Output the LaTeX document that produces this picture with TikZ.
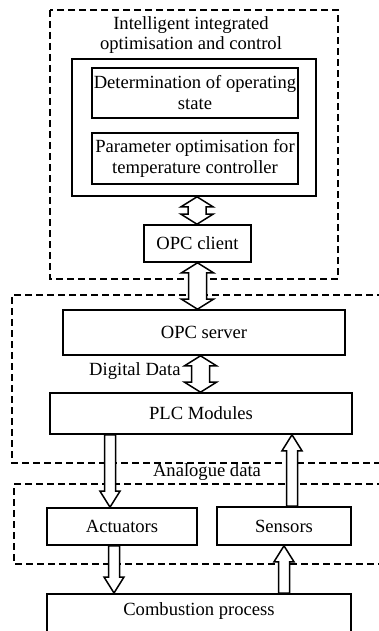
\documentclass[tikz,border=0pt]{standalone}
\usepackage{fontspec}
\setmainfont{Liberation Serif}
\usepackage{tikz}
\usetikzlibrary{positioning,calc}

\tikzset{
  box/.style={draw, rectangle, line width=0.8pt, align=center, inner sep=1pt, font=\fontsize{9.3}{10.5}\selectfont},
  label/.style={align=center, inner sep=0pt, font=\fontsize{9.3}{10}\selectfont},
  region/.style={dash pattern=on 3.5pt off 2pt, line width=0.7pt},
  arrowbody/.style={draw, fill=white, line width=0.75pt},
}

% hollow block arrow, head at the second point
\newcommand{\fatarrow}[2]{%
  \draw[arrowbody] let \p1=(#1), \p2=(#2), \n1={ifthenelse(\y2>\y1,1,-1)} in
    ({\x1-2.75pt},\y1) -- ({\x1-2.75pt},{\y2-(\n1)*8pt}) -- ({\x1-5pt},{\y2-(\n1)*8pt}) -- (\x1,\y2)
    -- ({\x1+5pt},{\y2-(\n1)*8pt}) -- ({\x1+2.75pt},{\y2-(\n1)*8pt}) -- ({\x1+2.75pt},\y1) -- cycle;}
% hollow block arrow, heads at both points
\newcommand{\fatdarrow}[2]{%
  \draw[arrowbody] let \p1=(#1), \p2=(#2), \n1={ifthenelse(\y2>\y1,1,-1)} in
    (\x1,\y1) -- ({\x1+8pt},{\y1+(\n1)*5pt}) -- ({\x1+4.5pt},{\y1+(\n1)*5pt}) -- ({\x1+4.5pt},{\y2-(\n1)*5pt})
    -- ({\x1+8pt},{\y2-(\n1)*5pt}) -- (\x1,\y2) -- ({\x1-8pt},{\y2-(\n1)*5pt}) -- ({\x1-4.5pt},{\y2-(\n1)*5pt})
    -- ({\x1-4.5pt},{\y1+(\n1)*5pt}) -- ({\x1-8pt},{\y1+(\n1)*5pt}) -- cycle;}

\begin{document}
\begin{tikzpicture}[x=0.5pt, y=-0.5pt]
    \useasboundingbox (0,0) rectangle (379,631);
    % Regions
    \draw [region] (50,10) rectangle (338,279);
    \draw [region] (395,295) -| (12,463) -- (395,463);
    \draw [region] (395,484) -| (14,564) -- (395,564);

    % Nodes
    \node [label] (title) at (191,35) {Intelligent integrated\\optimisation and control};
    \node [box, minimum width=122pt, minimum height=68.5pt] (core) at (194,127.5) {};
    \node [box, minimum width=103pt, minimum height=25pt] (state) at (195,93) {Determination of operating\\state};
    \node [box, minimum width=103pt, minimum height=25.5pt] (param) at (195,158.5) {Parameter optimisation for\\temperature controller};
    \node [box, minimum width=53.5pt, minimum height=18.5pt] (client) at (197.5,243.5) {OPC client};

    \node [box, minimum width=141pt, minimum height=22.5pt] (server) at (204,332.5) {OPC server};
    \node [label, anchor=east] (digital) at (181,371) {Digital Data};
    \node [box, minimum width=151pt, minimum height=20.5pt] (plc) at (201,413.5) {PLC Modules};
    \node [label] (analogue) at (207,472) {Analogue data};

    \node [box, minimum width=75pt, minimum height=18.5pt] (act) at (122,526.5) {Actuators};
    \node [box, minimum width=67pt, minimum height=19pt] (sens) at (284,526) {Sensors};
    \node [box, minimum width=152pt, anchor=north, inner ysep=5pt, text height=6pt, text depth=20pt] (comb) at (199,593) {Combustion process};

    % Arrows
    \fatdarrow{197,0 |- core.south}{197,0 |- client.north}
    \fatdarrow{197.5,0 |- client.south}{197.5,0 |- server.north}
    \fatdarrow{200.5,0 |- server.south}{200.5,0 |- plc.north}
    \fatarrow{110,0 |- plc.south}{110,0 |- act.north}
    \fatarrow{292,0 |- sens.north}{292,0 |- plc.south}
    \fatarrow{114,0 |- act.south}{114,0 |- comb.north}
    \fatarrow{284,0 |- comb.north}{284,0 |- sens.south}
\end{tikzpicture}
\end{document}
